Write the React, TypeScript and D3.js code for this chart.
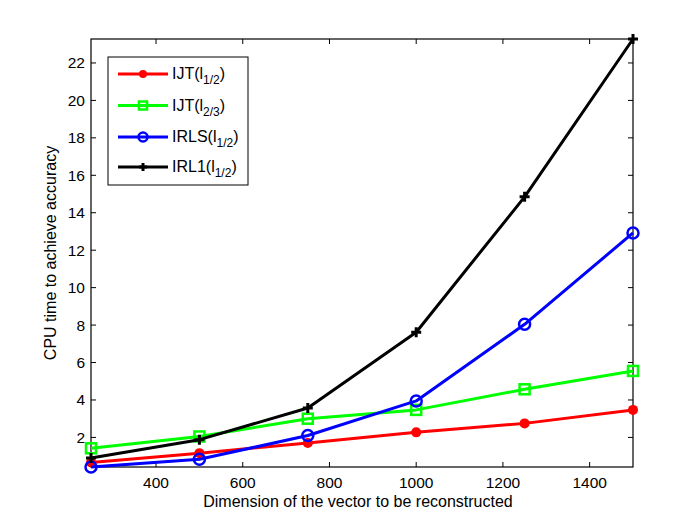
import { useEffect, useRef } from 'react';
import * as d3 from 'd3';

const dims = [250, 500, 750, 1000, 1250, 1500];
const ijtHalf = [0.66, 1.16, 1.7, 2.27, 2.75, 3.47];
const ijtTwoThirds = [1.42, 2.05, 3.0, 3.47, 4.57, 5.55];
const irlsHalf = [0.42, 0.83, 2.1, 3.95, 8.04, 12.92];
const irl1Half = [0.9, 1.88, 3.57, 7.62, 14.85, 23.28];

const xTicks = [400, 600, 800, 1000, 1200, 1400];
const yTicks = [2, 4, 6, 8, 10, 12, 14, 16, 18, 20, 22];

interface Series {
  base: string;
  sub: string;
  values: number[];
  color: string;
  marker: 'dot' | 'square' | 'circle' | 'plus';
}

const series: Series[] = [
  { base: 'IJT(l', sub: '1/2', values: ijtHalf, color: '#ff0000', marker: 'dot' },
  { base: 'IJT(l', sub: '2/3', values: ijtTwoThirds, color: '#00ff00', marker: 'square' },
  { base: 'IRLS(l', sub: '1/2', values: irlsHalf, color: '#0000ff', marker: 'circle' },
  { base: 'IRL1(l', sub: '1/2', values: irl1Half, color: '#000000', marker: 'plus' },
];

const FONT = '"Liberation Sans", Arial, Helvetica, sans-serif';

function drawMarker(
  g: d3.Selection<SVGGElement, unknown, null, undefined>,
  kind: Series['marker'],
  color: string,
  cx: number,
  cy: number,
  size = 5
) {
  if (kind === 'dot') {
    g.append('circle').attr('cx', cx).attr('cy', cy).attr('r', size).attr('fill', color);
  } else if (kind === 'square') {
    g.append('rect')
      .attr('x', cx - size)
      .attr('y', cy - size)
      .attr('width', size * 2)
      .attr('height', size * 2)
      .attr('fill', 'none')
      .attr('stroke', color)
      .attr('stroke-width', 2.5);
  } else if (kind === 'circle') {
    g.append('circle')
      .attr('cx', cx)
      .attr('cy', cy)
      .attr('r', size + 0.5)
      .attr('fill', 'none')
      .attr('stroke', color)
      .attr('stroke-width', 2.5);
  } else {
    g.append('path')
      .attr('d', `M${cx - size},${cy}H${cx + size}M${cx},${cy - size}V${cy + size}`)
      .attr('stroke', color)
      .attr('stroke-width', 3);
  }
}

export default function App() {
  const svgRef = useRef<SVGSVGElement>(null);

  useEffect(() => {
    if (!svgRef.current) return;
    const svg = d3.select(svgRef.current);
    svg.selectAll('*').remove();

    const left = 91;
    const right = 633;
    const top = 39;
    const bottom = 467;

    const x = d3.scaleLinear().domain([250, 1500]).range([left, right]);
    const y = d3.scaleLinear().domain([0.42, 23.28]).range([bottom, top]);

    const g = svg.append('g');

    // Inward ticks on all four sides (MATLAB box style)
    const tickLen = 5;
    xTicks.forEach((t) => {
      g.append('line')
        .attr('x1', x(t)).attr('x2', x(t))
        .attr('y1', bottom).attr('y2', bottom - tickLen)
        .attr('stroke', '#000');
      g.append('line')
        .attr('x1', x(t)).attr('x2', x(t))
        .attr('y1', top).attr('y2', top + tickLen)
        .attr('stroke', '#000');
      g.append('text')
        .attr('x', x(t))
        .attr('y', bottom + 21)
        .attr('text-anchor', 'middle')
        .attr('font-family', FONT)
        .attr('font-size', 15.5)
        .text(t);
    });
    yTicks.forEach((t) => {
      g.append('line')
        .attr('x1', left).attr('x2', left + tickLen)
        .attr('y1', y(t)).attr('y2', y(t))
        .attr('stroke', '#000');
      g.append('line')
        .attr('x1', right).attr('x2', right - tickLen)
        .attr('y1', y(t)).attr('y2', y(t))
        .attr('stroke', '#000');
      g.append('text')
        .attr('x', left - 6)
        .attr('y', y(t) + 5.5)
        .attr('text-anchor', 'end')
        .attr('font-family', FONT)
        .attr('font-size', 15.5)
        .text(t);
    });

    g.append('rect')
      .attr('x', left)
      .attr('y', top)
      .attr('width', right - left)
      .attr('height', bottom - top)
      .attr('fill', 'none')
      .attr('stroke', '#000')
      .attr('stroke-width', 1.2);

    // Series lines and markers
    const line = d3
      .line<number>()
      .x((_, i) => x(dims[i]))
      .y((d) => y(d));

    series.forEach((s) => {
      g.append('path')
        .datum(s.values)
        .attr('d', line)
        .attr('fill', 'none')
        .attr('stroke', s.color)
        .attr('stroke-width', 3)
        .attr('stroke-linejoin', 'round');
      s.values.forEach((v, i) => drawMarker(g, s.marker, s.color, x(dims[i]), y(v)));
    });

    // Axis labels
    g.append('text')
      .attr('x', (left + right) / 2 - 4)
      .attr('y', 507)
      .attr('text-anchor', 'middle')
      .attr('font-family', FONT)
      .attr('font-size', 16)
      .text('Dimension of the vector to be reconstructed');

    g.append('text')
      .attr('transform', `translate(56,${(top + bottom) / 2}) rotate(-90)`)
      .attr('text-anchor', 'middle')
      .attr('font-family', FONT)
      .attr('font-size', 16)
      .text('CPU time to achieve accuracy');

    // Legend
    const legend = g.append('g');
    legend
      .append('rect')
      .attr('x', 108)
      .attr('y', 57)
      .attr('width', 140)
      .attr('height', 128)
      .attr('fill', '#fff')
      .attr('stroke', '#000');

    const rowYs = [74, 105.5, 137, 167];
    series.forEach((s, i) => {
      const ry = rowYs[i];
      legend
        .append('line')
        .attr('x1', 118)
        .attr('x2', 168)
        .attr('y1', ry)
        .attr('y2', ry)
        .attr('stroke', s.color)
        .attr('stroke-width', 3);
      drawMarker(legend, s.marker, s.color, 143, ry, 4);
      const txt = legend
        .append('text')
        .attr('x', 172)
        .attr('y', ry + 5)
        .attr('font-family', FONT)
        .attr('font-size', 16);
      txt.append('tspan').text(s.base);
      txt.append('tspan').attr('dy', 5).attr('font-size', 12).text(s.sub);
      txt.append('tspan').attr('dy', -5).text(')');
    });
  }, []);

  return (
    <svg
      ref={svgRef}
      width={698}
      height={525}
      style={{ position: 'absolute', left: 0, top: 0, background: '#fff' }}
    />
  );
}
